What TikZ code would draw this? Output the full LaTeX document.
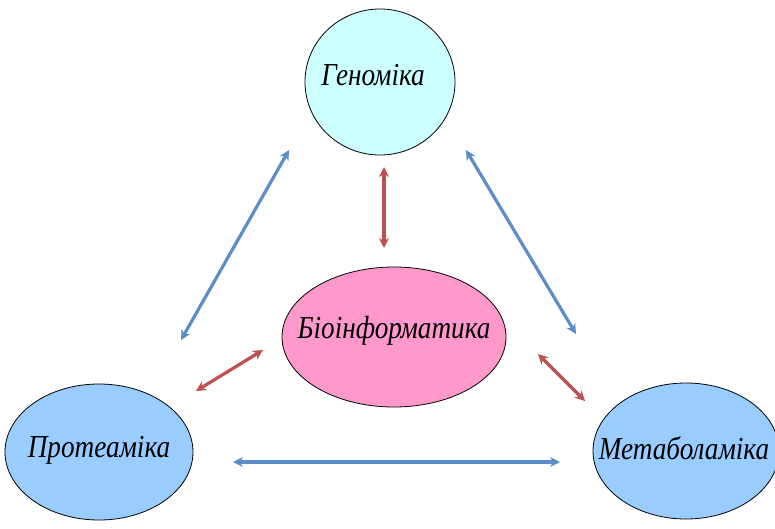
\documentclass[tikz,border=0pt]{standalone}
\usepackage{fontspec}
\setmainfont{Liberation Serif}
\usetikzlibrary{arrows.meta}
\definecolor{cyanfill}{HTML}{CCFFFF}
\definecolor{pinkfill}{HTML}{FF99CC}
\definecolor{bluefill}{HTML}{99CCFF}
\definecolor{bluearrow}{HTML}{5B8DCB}
\definecolor{redarrow}{HTML}{C0504D}
\tikzset{
  lbl/.style={font=\fontsize{32}{32}\selectfont\itshape},
  barrow/.style={draw=bluearrow, line width=3.2pt, {Stealth[length=10pt,width=10pt]}-{Stealth[length=10pt,width=10pt]}},
  rarrow/.style={draw=redarrow, line width=3.2pt, {Stealth[length=10pt,width=10pt]}-{Stealth[length=10pt,width=10pt]}}
}
\newcommand{\sq}[1]{\scalebox{0.85}[1]{#1}}
\begin{document}
\begin{tikzpicture}[x=1pt,y=-1pt]
\useasboundingbox (0,0) rectangle (775,528);
% shapes
\draw[fill=cyanfill, line width=0.8pt] (380,82) ellipse [x radius=75, y radius=73];
\draw[fill=pinkfill, line width=0.8pt] (394,337) ellipse [x radius=112, y radius=70];
\draw[fill=bluefill, line width=0.8pt] (99,452) ellipse [x radius=94, y radius=68];
\draw[fill=bluefill, line width=0.8pt] (686,451) ellipse [x radius=93, y radius=68];
% labels
\node[lbl] (gen) at (373,75) {\sq{Геноміка}};
\node[lbl] (bio) at (394,331) {\sq{Біоінформатика}};
\node[lbl] (prot) at (99,450) {\sq{Протеаміка}};
\node[lbl] (meta) at (684,448) {\sq{Метаболаміка}};
% arrow ends
\coordinate (a1) at (289,150);
\coordinate (a2) at (181,340);
\coordinate (b1) at (466,150);
\coordinate (b2) at (576,334);
\coordinate (c1) at (233,462);
\coordinate (c2) at (560,462);
\coordinate (d1) at (384,167);
\coordinate (d2) at (384,248);
\coordinate (e1) at (263,350);
\coordinate (e2) at (196,391);
\coordinate (f1) at (538,354);
\coordinate (f2) at (585,401);
\draw[barrow] (a1) -- (a2);
\draw[barrow] (b1) -- (b2);
\draw[barrow] (c1) -- (c2);
\draw[rarrow] (d1) -- (d2);
\draw[rarrow] (e1) -- (e2);
\draw[rarrow] (f1) -- (f2);
\end{tikzpicture}
\end{document}
